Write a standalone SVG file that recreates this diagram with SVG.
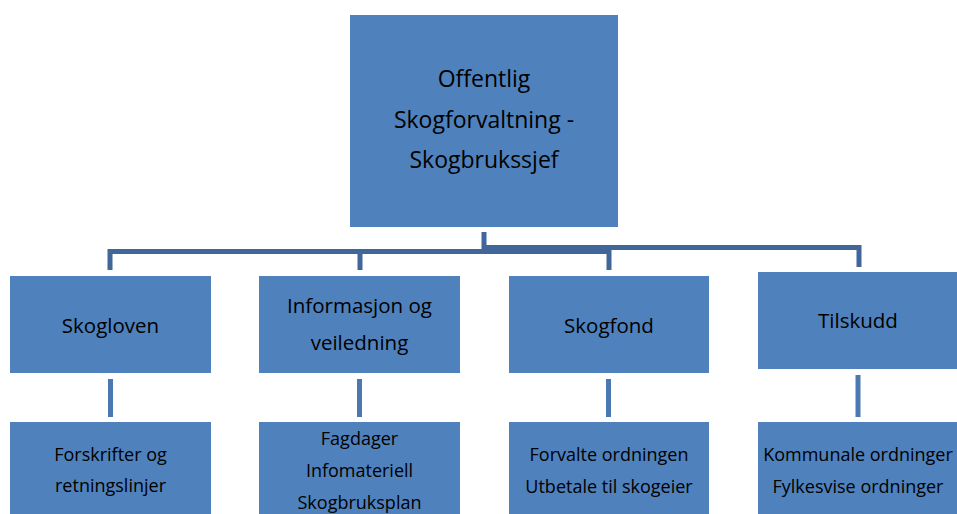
<svg xmlns="http://www.w3.org/2000/svg" width="957" height="514" viewBox="0 0 957 514">
<style>
.box{fill:#4F81BD;}
.t{font-family:"Open Sans","Noto Sans","DejaVu Sans",sans-serif;fill:#000;text-anchor:middle;}
.l1{font-size:23px;}
.l2{font-size:20.5px;}
.l3{font-size:18px;}
.c{stroke:#41679A;stroke-width:5;fill:none;}
.v{stroke:#4A78B0;stroke-width:5;fill:none;}
</style>
<rect width="957" height="514" fill="#fff"/>
<g id="connectors">
<path class="c" d="M484,232 V252"/>
<path class="c" d="M110,270 V251.5 H609 V270"/>
<path class="c" d="M360,251.5 V270"/>
<path class="c" d="M484,247.5 H859 V267"/>
<path class="v" d="M110.5,379 V417"/>
<path class="v" d="M359.5,379 V417"/>
<path class="v" d="M608.5,379 V417"/>
<path class="v" d="M858,375 V417"/>
</g>
<g id="root">
<rect class="box" x="350" y="15" width="268" height="212"/>
<text class="t l1" x="484" y="87">Offentlig</text>
<text class="t l1" x="484" y="128">Skogforvaltning -</text>
<text class="t l1" x="484" y="168">Skogbrukssjef</text>
</g>
<g id="skogloven">
<rect class="box" x="10" y="276" width="201" height="97"/>
<text class="t l2" x="110.5" y="333">Skogloven</text>
</g>
<g id="informasjon">
<rect class="box" x="259" y="276" width="201" height="97"/>
<text class="t l2" x="359.5" y="313">Informasjon og</text>
<text class="t l2" x="359.5" y="350">veiledning</text>
</g>
<g id="skogfond">
<rect class="box" x="509" y="276" width="200" height="97"/>
<text class="t l2" x="609" y="333">Skogfond</text>
</g>
<g id="tilskudd">
<rect class="box" x="758" y="272" width="199" height="97"/>
<text class="t l2" x="858" y="328">Tilskudd</text>
</g>
<g id="forskrifter">
<rect class="box" x="10" y="422" width="201" height="92"/>
<text class="t l3" x="110.5" y="461">Forskrifter og</text>
<text class="t l3" x="110.5" y="492">retningslinjer</text>
</g>
<g id="fagdager">
<rect class="box" x="259" y="422" width="201" height="92"/>
<text class="t l3" x="359.5" y="445">Fagdager</text>
<text class="t l3" x="359.5" y="477">Infomateriell</text>
<text class="t l3" x="359.5" y="509">Skogbruksplan</text>
</g>
<g id="forvalte">
<rect class="box" x="509" y="422" width="200" height="92"/>
<text class="t l3" x="609" y="461">Forvalte ordningen</text>
<text class="t l3" x="609" y="493">Utbetale til skogeier</text>
</g>
<g id="ordninger">
<rect class="box" x="758" y="422" width="199" height="92"/>
<text class="t l3" x="858" y="461">Kommunale ordninger</text>
<text class="t l3" x="858" y="493">Fylkesvise ordninger</text>
</g>
</svg>
